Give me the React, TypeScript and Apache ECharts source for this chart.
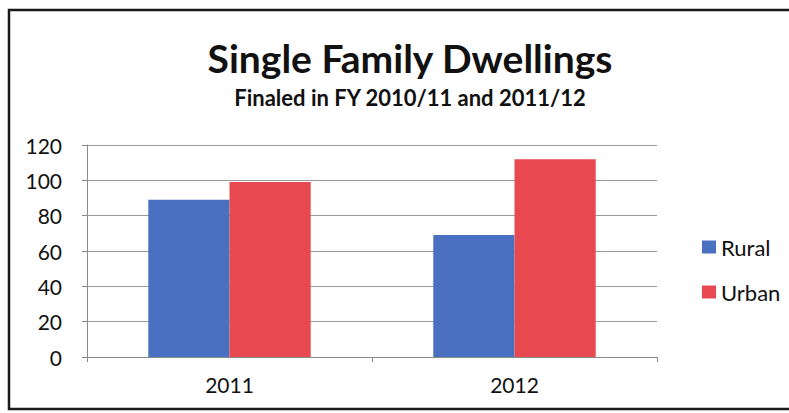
import React, { useEffect, useRef } from "react";
import * as echarts from "echarts";

const categories = ["2011", "2012"];
const rural = [89, 69];
const urban = [99, 112];
const yTicks = { min: 0, max: 120, interval: 20 };

export default function App() {
  const ref = useRef<HTMLDivElement>(null);
  useEffect(() => {
    if (!ref.current) return;
    const chart = echarts.init(ref.current, undefined, { renderer: "svg" });
    const font = "Lato, 'Open Sans', sans-serif";
    chart.setOption({
      animation: false,
      backgroundColor: "#ffffff",
      graphic: [
        {
          type: "rect",
          shape: { x: 9, y: 10, width: 800, height: 399 },
          style: { fill: "none", stroke: "#1a1a1a", lineWidth: 2.5 },
          silent: true,
        },
      ],
      title: {
        text: "Single Family Dwellings",
        subtext: "Finaled in FY 2010/11 and 2011/12",
        left: 405,
        textAlign: "center",
        top: 33,
        itemGap: 9,
        textStyle: { fontFamily: font, fontWeight: "bold", fontSize: 39, color: "#111" },
        subtextStyle: { fontFamily: font, fontWeight: "bold", fontSize: 22, color: "#111" },
      },
      legend: {
        orient: "vertical",
        left: 697,
        top: 231,
        itemWidth: 14,
        itemHeight: 13,
        itemGap: 23,
        icon: "rect",
        textStyle: { fontFamily: font, fontSize: 22, color: "#111" },
        data: ["Rural", "Urban"],
      },
      grid: { left: 87, right: 132, top: 145, bottom: 56 },
      xAxis: {
        type: "category",
        data: categories,
        axisLine: { lineStyle: { color: "#8a8a8a", width: 1 } },
        axisTick: { show: true, length: 5, lineStyle: { color: "#8a8a8a" } },
        axisLabel: { fontFamily: font, fontSize: 21, color: "#111", margin: 17 },
      },
      yAxis: {
        type: "value",
        min: yTicks.min,
        max: yTicks.max,
        interval: yTicks.interval,
        axisLine: { show: true, lineStyle: { color: "#8a8a8a", width: 1 } },
        axisTick: { show: true, length: 5, lineStyle: { color: "#8a8a8a" } },
        axisLabel: { fontFamily: font, fontSize: 21, color: "#111", margin: 25 },
        splitLine: { lineStyle: { color: "#9a9a9a", width: 1 } },
      },
      series: [
        {
          name: "Rural",
          type: "bar",
          data: rural,
          itemStyle: { color: "#4a70c2" },
          barGap: "0%",
          barCategoryGap: "43%",
        },
        {
          name: "Urban",
          type: "bar",
          data: urban,
          itemStyle: { color: "#e84850" },
          barGap: "0%",
          barCategoryGap: "43%",
        },
      ],
    });
    return () => chart.dispose();
  }, []);
  return (
    <div
      ref={ref}
      style={{ position: "absolute", left: 0, top: 0, width: 789, height: 413 }}
    />
  );
}
